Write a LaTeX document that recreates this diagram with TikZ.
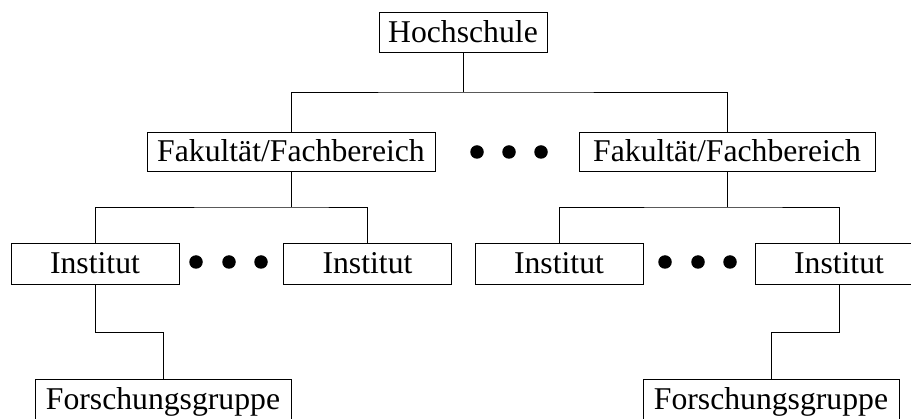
\documentclass[tikz,border=0pt]{standalone}
\usepackage{fontspec}
\setmainfont{Liberation Serif}
\begin{document}
\begin{tikzpicture}[x=1pt,y=-1pt,
  unit/.style={draw=black,line width=0.9pt,rectangle,inner sep=0pt,
    minimum height=40pt,text height=21pt,text depth=0pt,
    font=\fontsize{31.7}{38}\selectfont},
  link/.style={draw=black,line width=0.9pt},
  dotmark/.style={circle,fill=black,inner sep=0pt,minimum size=13.5pt}]
\useasboundingbox (0,0) rectangle (911,419);
\clip (0,0) rectangle (911,419);

% top level
\node[unit,minimum width=168pt] (hs) at (463,32) {Hochschule};

% faculties
\node[unit,minimum width=288pt,minimum height=39pt] (fl) at (291,151.5) {Fakultät/Fachbereich};
\node[unit,minimum width=296pt,minimum height=39pt] (fr) at (727,151.5) {Fakultät/Fachbereich};
\node[dotmark] (d1) at (477,152) {};
\node[dotmark] (d2) at (509,152) {};
\node[dotmark] (d3) at (541,152) {};

% institutes
\node[unit,minimum width=168pt,minimum height=41pt] (i1) at (95,263.5) {Institut};
\node[unit,minimum width=168pt,minimum height=41pt] (i2) at (367.5,263.5) {Institut};
\node[unit,minimum width=168pt,minimum height=41pt] (i3) at (559,263.5) {Institut};
\node[unit,minimum width=168pt,minimum height=41pt] (i4) at (839,263.5) {Institut};
\node[dotmark] (d4) at (196,262) {};
\node[dotmark] (d5) at (229,262) {};
\node[dotmark] (d6) at (261,262) {};
\node[dotmark] (d7) at (665,262) {};
\node[dotmark] (d8) at (698,262) {};
\node[dotmark] (d9) at (730,262) {};

% research groups
\node[unit,minimum width=256pt,minimum height=41pt] (g1) at (163,399.5) {Forschungsgruppe};
\node[unit,minimum width=256pt,minimum height=41pt] (g2) at (771,399.5) {Forschungsgruppe};

% junction points
\coordinate (j0) at (463,92);
\coordinate (j1) at (291,207);
\coordinate (j2) at (727,207);
\coordinate (k1) at (95,332);
\coordinate (k2) at (839,332);

% connectors
\draw[link] (hs.south) -- (j0);
\draw[link] (fl.north) |- (j0) -| (fr.north);
\draw[link] (fl.south) -- (j1);
\draw[link] (i1.north) |- (j1) -| (i2.north);
\draw[link] (fr.south) -- (j2);
\draw[link] (i3.north) |- (j2) -| (i4.north);
\draw[link] (i1.south) -- (k1) -| (g1.north);
\draw[link] (i4.south) -- (k2) -| (g2.north);
\end{tikzpicture}
\end{document}
